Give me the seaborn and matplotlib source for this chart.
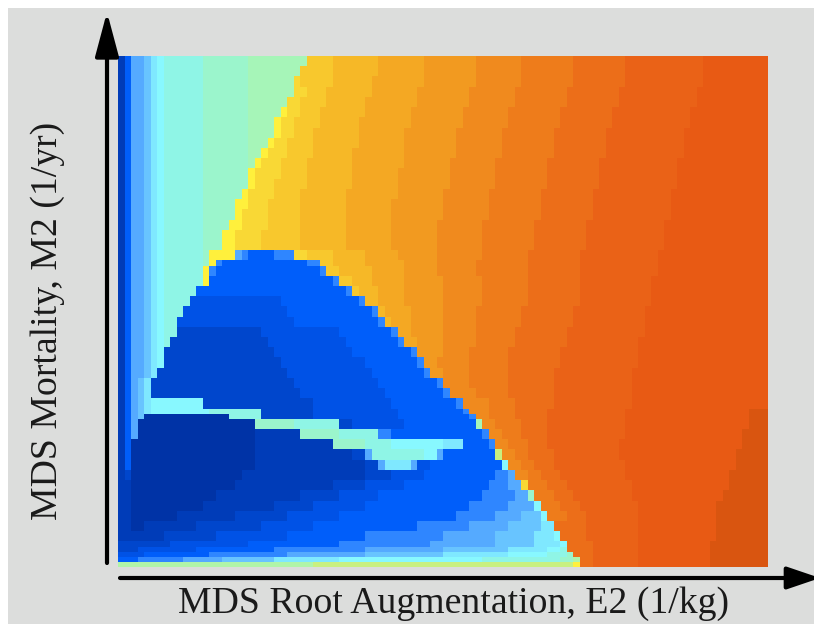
import re
import numpy as np
import pandas as pd
import seaborn as sns
import matplotlib
matplotlib.use("Agg")
import matplotlib.pyplot as plt
from matplotlib.colors import ListedColormap
from matplotlib.patches import Rectangle

X_LABEL = "MDS Root Augmentation, E2 (1/kg)"
Y_LABEL = "MDS Mortality, M2 (1/yr)"
N_COLS = 100

LEVEL_CODES = "abcdefghijklmnopqrstuvwxyzA"
LEVEL_COLORS = ["#0033A6", "#003CB8", "#0046CC", "#0052E6", "#005EFA", "#2F86FF", "#55AAFF",
                "#68C4FF", "#7FE8FF", "#88F8FF", "#8FF5E6", "#9BF5CC", "#A6F5B8", "#B0F5A8",
                "#C8F080", "#FFF03C", "#F9D835", "#F8C82D", "#F6B827", "#F4A823", "#F29A20",
                "#F08A1E", "#EE7C1B", "#EC6E19", "#EA6217", "#E85A14", "#D95510"]

# each entry: level code + last column of that run
ROW_RUNS = [
"b1 e2 g4 h5 i6 j7 k13 l20 m29 r33 s40 t47 u55 v62 w70 x78 y90 z100",
"b1 e2 g4 h5 i6 j7 k13 l20 m28 r33 s40 t47 u55 v62 w70 x78 y90 z100",
"b1 e2 g4 h5 i6 j7 k13 l20 m27 q28 r33 s39 t47 u55 v62 w70 x78 y90 z100",
"b1 e2 g4 h5 i6 j7 k13 l20 m27 q29 r32 s39 t46 u54 v61 w69 x77 y89 z100",
"b1 e2 g4 h5 i6 j7 k13 l20 m26 q28 r32 s38 t46 u54 v61 w69 x77 y89 z100",
"b1 e2 g4 h5 i6 j7 k13 l20 m25 p26 q28 r31 s38 t45 u53 v60 w68 x76 y88 z100",
"b1 e2 g4 h5 i6 j7 k13 l20 m24 p25 q27 r31 s37 t45 u53 v60 w68 x76 y88 z100",
"b1 e2 g4 h5 i6 j7 k13 l20 m24 p25 q27 r30 s37 t44 u52 v59 w67 x75 y87 z100",
"b1 e2 g4 h5 i6 j7 k13 l20 m23 p24 q26 r30 s37 t44 u52 v59 w67 x75 y87 z100",
"b1 e2 g4 h5 i6 j7 k13 l20 m22 p23 q26 r30 s36 t44 u52 v59 w67 x75 y87 z100",
"b1 e2 g4 h5 i6 j7 k13 l20 m21 p22 q25 r29 s36 t44 u51 v58 w66 x74 y86 z100",
"b1 e2 g4 h5 i6 j7 k13 l20 p21 q25 r29 s36 t43 u51 v58 w66 x74 y86 z100",
"b1 e2 g4 h5 i6 j7 k13 l20 p21 q24 r29 s36 t43 u51 v58 w66 x74 y86 z100",
"b1 e2 g4 h5 i6 j7 k13 l19 p20 q24 r28 s35 t43 u50 v57 w65 x73 y85 z100",
"b1 e2 g4 h5 i6 j7 k13 l18 p20 q23 r28 s35 t42 u50 v57 w65 x73 y85 z100",
"b1 e2 g4 h5 i6 j7 k13 l18 p19 q23 r28 s35 t42 u50 v57 w65 x73 y85 z100",
"b1 e2 g4 h5 i6 j7 k13 l17 p19 q23 r28 s35 t42 u49 v56 w64 x72 y84 z100",
"b1 e2 g4 h5 i6 j7 k13 l16 p18 q22 r28 s35 t42 u49 v56 w64 x72 y84 z100",
"b1 e2 g4 h5 i6 j7 k13 l16 p18 q22 r28 s35 t42 u49 v56 w64 x72 y84 z100",
"b1 e2 g4 h5 i6 j7 k13 l14 p18 g19 f20 e24 f27 q29 r33 s38 t43 u49 v56 w63 x71 y83 z100",
"b1 e2 g4 h5 i6 j7 k13 l14 p15 f16 e29 f31 r33 s38 t44 u49 v55 w63 x71 y83 z100",
"b1 e2 g4 h5 i6 j7 k13 p14 f15 e31 f32 r34 s39 t44 u49 v55 w63 x71 y83 z100",
"b1 e2 g4 h5 i6 j7 k13 p14 e33 f34 r36 s39 t44 u50 v56 w63 x71 y82 z100",
"b1 e2 g4 h5 i6 j7 k12 e35 f36 r37 s40 t44 u50 v56 w63 x71 y82 z100",
"b1 e2 g4 h5 i6 j7 k11 d25 e37 f38 s40 t44 u50 v56 w63 x71 y82 z100",
"b1 e2 g4 h5 i6 j7 k10 d26 e39 f40 s41 t45 u50 v55 w62 x70 y81 z100",
"b1 e2 g4 h5 i6 j7 k9 d27 e40 f41 s42 t45 u50 v55 w62 x70 y81 z100",
"b1 e2 g4 h5 i6 j7 k9 c22 d34 e42 f43 t45 u50 v55 w61 x69 y81 z100",
"b1 e2 g4 h5 i6 j7 k8 c23 d35 e43 f44 t46 u50 v55 w61 x69 y80 z100",
"b1 e2 g4 h5 i6 j7 c24 d36 e45 f46 u50 v54 w60 x68 y80 z100",
"b1 e2 g4 h5 i6 j7 c25 d38 e46 f47 u49 v54 w60 x68 y80 z100",
"b1 e2 g4 h5 i6 c26 d39 e47 f48 u50 v54 w60 x67 y79 z100",
"b1 e2 g3 h4 i5 c27 d40 e49 f50 v54 w60 x67 y79 z100",
"b1 e2 g3 h4 i5 c28 d41 e50 f51 v55 w60 x67 y79 z100",
"b1 e2 g3 h4 i5 j13 c30 d42 e52 f53 v57 w61 x67 y79 z100",
"b1 e2 g3 h4 i5 j14 k22 c30 d43 e53 f54 v57 w61 x66 y78 z97 A100",
"b1 e2 g3 h4 a17 k22 c30 d43 e54 f55 v57 w61 x66 y78 z97 A100",
"b1 e2 g3 a21 l27 k34 c36 d44 e55 m56 v58 w62 x66 y78 z97 A100",
"b1 e2 g3 a21 b28 l34 k40 f42 e56 f57 v59 w62 x66 y78 z96 A100",
"b1 e2 a21 b33 l38 k42 j50 i53 e57 f58 v60 w63 x66 y77 z96 A100",
"b1 e2 a21 b36 c38 g39 k47 j49 g50 e58 o59 v61 w63 x67 y77 z95 A100",
"b1 e2 a21 b38 c40 g41 i45 g46 d48 e59 j60 v62 w64 x67 y78 z95 A100",
"b1 c2 a19 b38 c42 d47 e58 f60 g61 v63 w65 x68 y78 z94 A100",
"b2 a18 b33 c38 d44 e57 f60 g62 q63 w66 x69 y79 z94 A100",
"b2 a15 b28 c34 d40 e56 f61 g63 l64 w67 x70 y79 z93 A100",
"b2 a13 b24 c30 d38 e54 f60 g64 j65 w68 x71 y80 z92 A100",
"b2 a9 b18 c26 d34 e52 f58 g62 h65 j66 w69 x72 y80 z92 A100",
"b2 a4 b12 c22 d30 e46 f54 g60 h65 i67 x72 y80 z92 A100",
"b7 c15 d26 e38 f50 g58 h64 i67 j68 x72 y80 z92 A100",
"c8 d20 e34 f48 g58 h64 i68 j69 x73 y80 z91 A100",
"c3 d12 e24 f38 g50 h60 i66 j68 k69 x73 y80 z91 A100",
"d4 e14 f26 g38 h50 i60 j66 k69 l70 x73 y80 z91 A100",
"e3 f10 g16 h24 i34 j56 k68 l70 n71 x73 y80 z91 A100",
"n30 o70 p71 x73 y80 z91 A100",
]
ROW_SPANS = [2] * 20 + [1] + [2] * 14 + [1, 1] + [2] * 12 + [1] * 5


def decode(runs):
    row = []
    for code, end in re.findall(r"([a-zA-Z])(\d+)", runs):
        row += [LEVEL_CODES.index(code)] * max(0, int(end) - len(row))
    return row


matrix = []
for runs, span in zip(ROW_RUNS, ROW_SPANS):
    matrix += [decode(runs)] * span
data = pd.DataFrame(np.array(matrix))

W, H = 814, 624
fig = plt.figure(figsize=(W / 100, H / 100), dpi=100, facecolor="white")
fig.add_artist(Rectangle((8 / W, 0), 1 - 8 / W, 1 - 8 / H, transform=fig.transFigure,
                         facecolor="#DCDDDC", edgecolor="none", zorder=-5))
ax = fig.add_axes([118 / W, 1 - 567 / H, 650 / W, 511 / H])
sns.heatmap(data, ax=ax, cmap=ListedColormap(LEVEL_COLORS), vmin=-0.5, vmax=len(LEVEL_COLORS) - 0.5,
            cbar=False, xticklabels=False, yticklabels=False, linewidths=0)
ax.set_xlabel("")
ax.set_ylabel("")

FONT = "Liberation Serif"
fig.text(453 / W, 1 - 604 / H, X_LABEL, ha="center", va="center", family=FONT, fontsize=27.2, color="#1a1a1a")
fig.text(48 / W, 1 - 321 / H, Y_LABEL, ha="center", va="center", rotation=90, family=FONT, fontsize=27.2, color="#1a1a1a")


def arrow(x0, y0, x1, y1, hl, hw):
    ax.annotate("", xy=(x1, H - y1), xytext=(x0, H - y0), xycoords="figure pixels", textcoords="figure pixels",
                annotation_clip=False,
                arrowprops=dict(arrowstyle=f"-|>,head_length={hl},head_width={hw}", color="black", lw=3.0,
                                mutation_scale=20, shrinkA=0, shrinkB=0))


arrow(107, 563, 107, 12, 1.35, 0.36)
arrow(120, 578, 820, 578, 1.0, 0.34)

fig.savefig("out.png", dpi=100, facecolor="white")
